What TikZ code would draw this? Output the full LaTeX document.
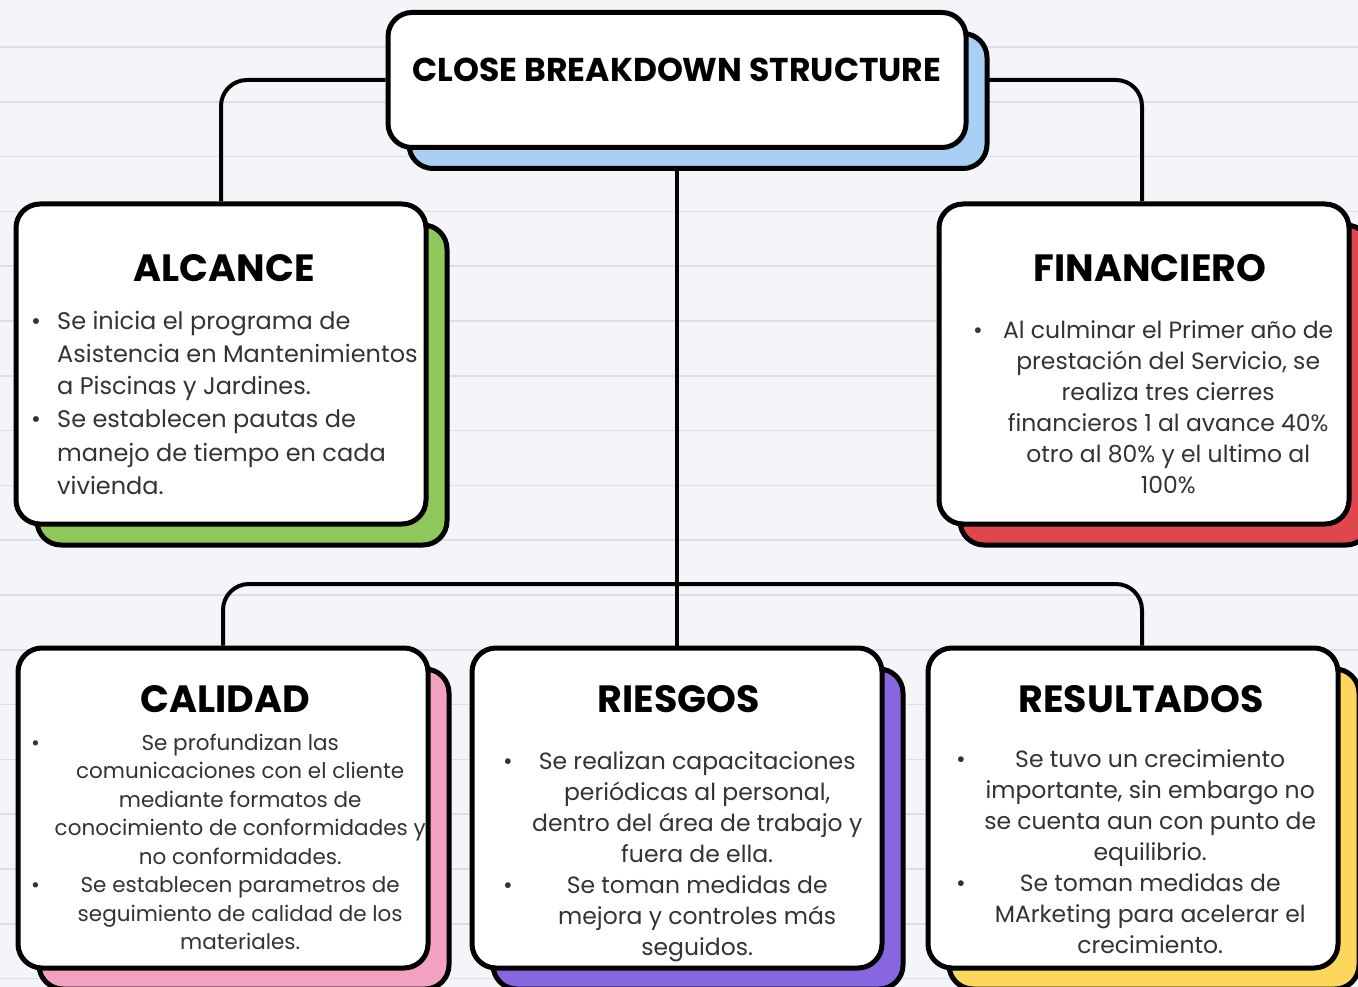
\documentclass[tikz,border=0pt]{standalone}
\usepackage{fontspec}
\usepackage{array}
\setmainfont{Poppins}
\usetikzlibrary{positioning,shadows,backgrounds}

\definecolor{paper}{HTML}{F4F5F8}
\definecolor{ruling}{HTML}{DADFE8}
\definecolor{ink}{HTML}{333333}
\definecolor{cbsblue}{HTML}{A8D0F5}
\definecolor{cbsgreen}{HTML}{8FC85A}
\definecolor{cbsred}{HTML}{E0474C}
\definecolor{cbspink}{HTML}{F2A2C0}
\definecolor{cbspurple}{HTML}{8766E0}
\definecolor{cbsyellow}{HTML}{FCD75B}

\tikzset{
  card/.style={draw=black, line width=5pt, rounded corners=24pt, fill=white,
    minimum width=410pt, minimum height=320pt, inner sep=0pt,
    drop shadow={shadow xshift=21pt, shadow yshift=-21pt, fill=#1,
      draw=black, line width=5pt, opacity=1}},
  link/.style={line width=4pt, rounded corners=26pt},
  head/.style={font=\bfseries\fontsize{38}{40}\selectfont, inner sep=0pt},
  body/.style={text=ink, inner sep=0pt},
}

\begin{document}
\begin{tikzpicture}[x=1pt, y=-1pt]
    \useasboundingbox (0,0) rectangle (1358,987);

    % title
    \node[card=cbsblue, minimum width=578pt, minimum height=135pt] (cbs) at (677,80) {};
    \node[font=\bfseries\fontsize{33}{35}\selectfont, inner sep=0pt] (cbs_title)
    at (677,70) {CLOSE BREAKDOWN STRUCTURE};

    % alcance
    \node[card=cbsgreen] (alcance) at (221,364) {};
    \node[head, below=53pt of alcance.north, xshift=3pt] (alcance_head) {ALCANCE};
    \node[body, anchor=base west, font=\fontsize{24}{33}\selectfont] (alcance_body) at (31,329)
    {
    \begin{tabular}[t]{@{}p{26pt}@{}l@{}}
    \textbullet & Se inicia el programa de \\
     & Asistencia en Mantenimientos \\
     & a Piscinas y Jardines. \\
    \textbullet & Se establecen pautas de \\
     & manejo de tiempo en cada \\
     & vivienda. \\
    \end{tabular}
    };

    % financiero
    \node[card=cbsred] (financiero) at (1144,364) {};
    \node[head, below=53pt of financiero.north, xshift=6pt] (financiero_head) {FINANCIERO};
    \node[body, anchor=base west, font=\fontsize{23.5}{31}\selectfont] (financiero_body) at (973,338)
    {
    \begin{tabular}[t]{@{}p{10pt}@{}>{\centering\arraybackslash}p{370pt}@{}}
    \textbullet & Al culminar el Primer año de \\
     & prestación del Servicio, se \\
     & realiza tres cierres \\
     & financieros 1 al avance 40\% \\
     & otro al 80\% y el ultimo al \\
     & 100\% \\
    \end{tabular}
    };

    % calidad
    \node[card=cbspink] (calidad) at (223,808) {};
    \node[head, below=40pt of calidad.north, xshift=2pt] (calidad_head) {CALIDAD};
    \node[body, anchor=base west, font=\fontsize{21.5}{28.5}\selectfont] (calidad_body) at (31,750)
    {
    \begin{tabular}[t]{@{}p{14pt}@{}>{\centering\arraybackslash}p{390pt}@{}}
    \textbullet & Se profundizan las \\
     & comunicaciones con el cliente \\
     & mediante formatos de \\
     & conocimiento de conformidades y \\
     & no conformidades. \\
    \textbullet & Se establecen parametros de \\
     & seguimiento de calidad de los \\
     & materiales. \\
    \end{tabular}
    };

    % riesgos
    \node[card=cbspurple] (riesgos) at (677,808) {};
    \node[head, below=40pt of riesgos.north, xshift=2pt] (riesgos_head) {RIESGOS};
    \node[body, anchor=base west, font=\fontsize{23.5}{31}\selectfont] (riesgos_body) at (503,769)
    {
    \begin{tabular}[t]{@{}p{9pt}@{}>{\centering\arraybackslash}p{370pt}@{}}
    \textbullet & Se realizan capacitaciones \\
     & periódicas al personal, \\
     & dentro del área de trabajo y \\
     & fuera de ella. \\
    \textbullet & Se toman medidas de \\
     & mejora y controles más \\
     & seguidos. \\
    \end{tabular}
    };

    % resultados
    \node[card=cbsyellow] (resultados) at (1133,808) {};
    \node[head, below=40pt of resultados.north, xshift=8pt] (resultados_head) {RESULTADOS};
    \node[body, anchor=base west, font=\fontsize{23.5}{31}\selectfont] (resultados_body) at (956,767)
    {
    \begin{tabular}[t]{@{}p{9pt}@{}>{\centering\arraybackslash}p{370pt}@{}}
    \textbullet & Se tuvo un crecimiento \\
     & importante, sin embargo no \\
     & se cuenta aun con punto de \\
     & equilibrio. \\
    \textbullet & Se toman medidas de \\
     & MArketing para acelerar el \\
     & crecimiento. \\
    \end{tabular}
    };

    % ruled paper and connectors behind the cards
    \begin{scope}[on background layer]
    \fill[paper] (0,0) rectangle (1358,987);
    \foreach \k in {0,...,17}
        \draw[ruling, line width=1.6pt] (0,{47+54.8*\k}) -- (1358,{47+54.8*\k});

    \coordinate (bus) at (677,584);
    \draw[link] (cbs.west) -| (alcance.north);
    \draw[link] (cbs.east) -| ([xshift=-2pt]financiero.north);
    \draw[link] (cbs.south) -- (riesgos.north);
    \draw[link] (calidad.north) |- (bus) -| ([xshift=9pt]resultados.north);
    \end{scope}

\end{tikzpicture}
\end{document}
